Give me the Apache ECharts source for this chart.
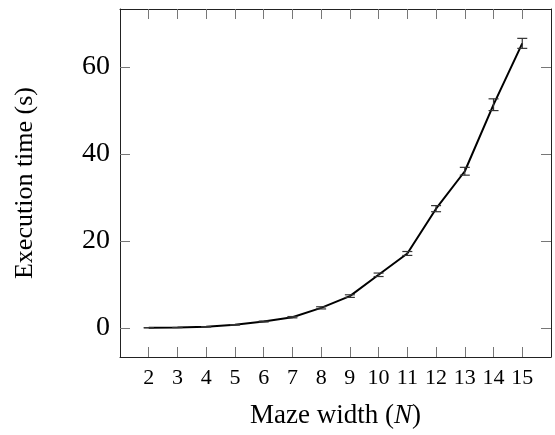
<!DOCTYPE html>
<html>
<head>
<meta charset="utf-8">
<script src="https://cdn.jsdelivr.net/npm/echarts@6/dist/echarts.min.js"></script>
<style>
  html, body { margin: 0; padding: 0; background: #fff; }
  #chart { width: 555px; height: 435px; }
</style>
</head>
<body>
<div id="chart"></div>
<script>
// Maze width N and mean execution time (s) with error half-widths
const mazeWidths = [2, 3, 4, 5, 6, 7, 8, 9, 10, 11, 12, 13, 14, 15];
const execTimes = [0.02, 0.08, 0.25, 0.7, 1.45, 2.45, 4.6, 7.3, 12.2, 17.1, 27.4, 36.0, 51.3, 65.4];
const execErrors = [0.02, 0.02, 0.03, 0.05, 0.1, 0.15, 0.25, 0.3, 0.4, 0.45, 0.7, 0.9, 1.35, 1.15];
const yTicks = [0, 20, 40, 60];

const serif = '"Liberation Serif", "Times New Roman", serif';
const frameColor = '#222';
const tickColor = '#777';

const linePoints = mazeWidths.map((n, i) => [n, execTimes[i]]);
const errPoints = mazeWidths.map((n, i) => [n, execTimes[i] - execErrors[i], execTimes[i] + execErrors[i]]);

const chart = echarts.init(document.getElementById('chart'), null, { renderer: 'canvas' });

const xBase = {
  type: 'value', min: 1, max: 16,
  splitLine: { show: false },
  axisLine: { show: true, onZero: false, lineStyle: { color: frameColor, width: 1 } },
  axisTick: { show: true, inside: true, length: 10, customValues: mazeWidths, lineStyle: { color: tickColor, width: 1 } }
};
const yBase = {
  type: 'value', min: -6.7, max: 73.3,
  splitLine: { show: false },
  axisLine: { show: true, onZero: false, lineStyle: { color: frameColor, width: 1 } },
  axisTick: { show: true, inside: true, length: 10, customValues: yTicks, lineStyle: { color: tickColor, width: 1 } }
};

chart.setOption({
  animation: false,
  backgroundColor: '#fff',
  grid: { left: 120, right: 4, top: 9, bottom: 78, containLabel: false },
  xAxis: [
    Object.assign({}, xBase, {
      position: 'bottom',
      name: '{r|Maze width (}{i|N}{r|)}',
      nameLocation: 'middle',
      nameGap: 45,
      nameTextStyle: {
        rich: {
          r: { fontFamily: serif, fontSize: 27, color: '#000' },
          i: { fontFamily: serif, fontSize: 27, fontStyle: 'italic', color: '#000' }
        }
      },
      axisLabel: {
        show: true, customValues: mazeWidths, margin: 10,
        fontFamily: serif, fontSize: 22, color: '#000'
      }
    }),
    Object.assign({}, xBase, { position: 'top', axisLabel: { show: false } })
  ],
  yAxis: [
    Object.assign({}, yBase, {
      position: 'left',
      name: 'Execution time (s)',
      nameLocation: 'middle',
      nameGap: 82,
      nameRotate: 90,
      nameTextStyle: { fontFamily: serif, fontSize: 26, color: '#000' },
      axisLabel: {
        show: true, customValues: yTicks, margin: 10,
        fontFamily: serif, fontSize: 28, color: '#000'
      }
    }),
    Object.assign({}, yBase, { position: 'right', axisLabel: { show: false } })
  ],
  series: [
    {
      type: 'line',
      xAxisIndex: 0, yAxisIndex: 0,
      data: linePoints,
      symbol: 'none',
      lineStyle: { color: '#000', width: 2 },
      z: 3
    },
    {
      type: 'custom',
      xAxisIndex: 0, yAxisIndex: 0,
      data: errPoints,
      z: 4,
      renderItem: function (params, api) {
        const x = api.value(0);
        const lo = api.coord([x, api.value(1)]);
        const hi = api.coord([x, api.value(2)]);
        const cap = 5;
        const style = { stroke: '#333', lineWidth: 1.2 };
        return {
          type: 'group',
          children: [
            { type: 'line', shape: { x1: lo[0], y1: lo[1], x2: hi[0], y2: hi[1] }, style: style },
            { type: 'line', shape: { x1: lo[0] - cap, y1: lo[1], x2: lo[0] + cap, y2: lo[1] }, style: style },
            { type: 'line', shape: { x1: hi[0] - cap, y1: hi[1], x2: hi[0] + cap, y2: hi[1] }, style: style }
          ]
        };
      }
    }
  ]
});
</script>
</body>
</html>
